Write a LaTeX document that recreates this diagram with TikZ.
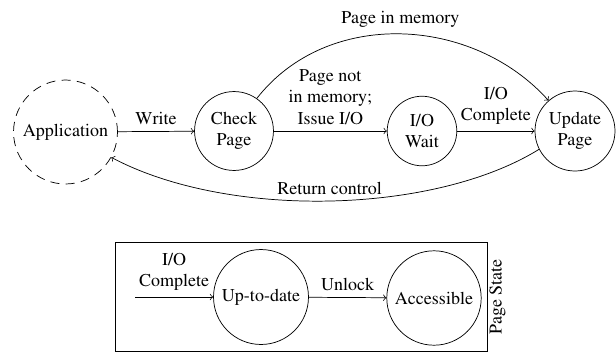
\documentclass[tikz,border=0pt]{standalone}
\usepackage[T1]{fontenc}
\usepackage{times}
\begin{document}
\begin{tikzpicture}[x=0.555pt,y=-0.555pt,
  state/.style={draw,circle,align=center,inner sep=1pt},
  lbl/.style={align=center,font=\normalsize}]
\useasboundingbox (0,0) rectangle (616,352);
\node[state,dash pattern=on 5pt off 3.5pt,minimum size=57.7pt] (app) at (65.5,132) {Application};
\node[state,minimum size=43.8pt] (check) at (234,131) {Check\\Page};
\node[state,minimum size=38.6pt] (wait) at (422,131) {I/O\\Wait};
\node[state,minimum size=44.4pt] (update) at (575,131) {Update\\Page};
\draw[->] (app) -- node[above,lbl] {Write} (check);
\draw[->] (check) -- node[above,lbl] {Page not\\in memory;\\Issue I/O} (wait);
\draw[->] (wait) -- node[above,lbl] {I/O\\Complete} (update);
\draw[->] (check.55) to[out=52,in=132] node[pos=0.5,above,lbl] {Page in memory} (update.131);
\draw[->] (update.-153) .. controls +(-105,65) and +(117,62) .. node[pos=0.5,above,lbl] {Return control} (app.-29);
% page state box
\node[draw,rectangle,minimum width=206.5pt,minimum height=60.5pt] (box) at (301,296.5) {};
\node[rotate=90,lbl] (ps) at (497.5,297) {Page State};
\node[state,minimum size=52.7pt] (up) at (261,297) {Up-to-date};
\node[state,minimum size=52.4pt] (acc) at (434,298) {Accessible};
\coordinate (in) at (135,297);
\draw[->] (in) -- node[above,lbl] {I/O\\Complete} (up);
\draw[->] (up) -- node[above,lbl] {Unlock} (acc);
\end{tikzpicture}
\end{document}
